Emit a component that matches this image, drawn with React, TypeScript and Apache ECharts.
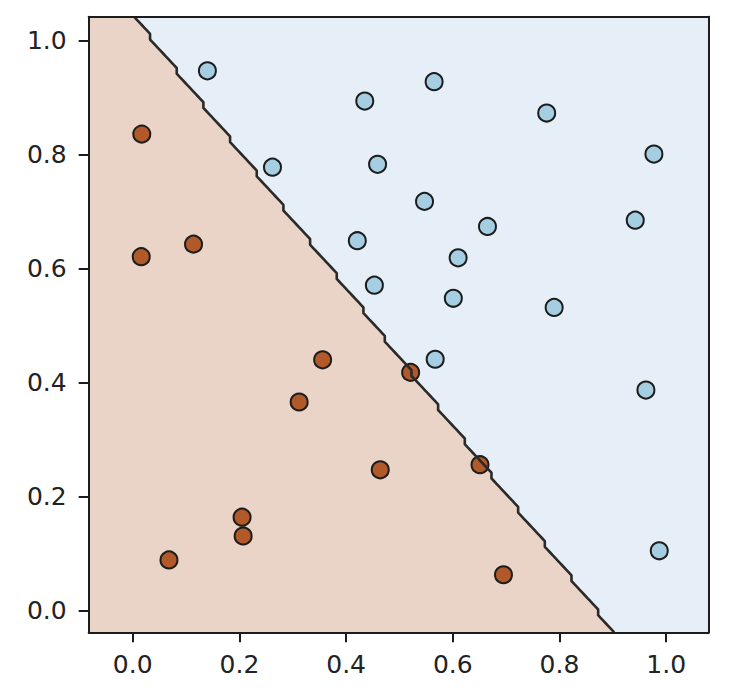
import React, { useEffect, useRef } from "react";
import * as echarts from "echarts";

// Class 0 points (light blue)
const classA: number[][] = [
  [0.140, 0.947], [0.565, 0.928], [0.435, 0.894], [0.776, 0.873],
  [0.977, 0.801], [0.262, 0.778], [0.459, 0.783], [0.547, 0.718],
  [0.665, 0.674], [0.942, 0.685], [0.421, 0.649], [0.610, 0.619],
  [0.453, 0.571], [0.601, 0.548], [0.790, 0.532], [0.567, 0.441],
  [0.962, 0.387], [0.987, 0.105],
];
// Class 1 points (brown)
const classB: number[][] = [
  [0.017, 0.836], [0.016, 0.621], [0.114, 0.643], [0.356, 0.440],
  [0.312, 0.366], [0.521, 0.418], [0.651, 0.256], [0.464, 0.247],
  [0.205, 0.164], [0.207, 0.131], [0.068, 0.089], [0.695, 0.063],
];
// Linear decision boundary (end points where it meets the plot frame)
const boundaryEnds: number[][] = [[0.004, 1.042], [0.901, -0.038]];
const xTicks = [0, 0.2, 0.4, 0.6, 0.8, 1.0];
const yTicks = [0, 0.2, 0.4, 0.6, 0.8, 1.0];
const xRange = [-0.0825, 1.0797];
const yRange = [-0.038, 1.042];
const meshStep = 0.01;

const BLUE_BG = "#e6eff7";
const ORANGE_BG = "#e9d4c7";
const BLUE_PT = "#a6cee3";
const ORANGE_PT = "#b15928";
const INK = "#1c1c1c";
const FONT = "DejaVu Sans";

// Evaluate the classifier on a mesh grid and trace the contour (marching squares)
function traceContour(): number[][] {
  const [[x1, y1], [x2, y2]] = boundaryEnds;
  const side = (x: number, y: number) =>
    (x - x1) * (y2 - y1) - (y - y1) * (x2 - x1) > 0;
  const h = meshStep;
  const nx = Math.floor((xRange[1] - xRange[0]) / h + 1e-9);
  const ny = Math.round((yRange[1] - yRange[0]) / h);
  const X = (i: number) => xRange[0] + i * h;
  const Y = (j: number) => yRange[0] + j * h;
  const pts: number[][] = [];
  for (let j = 0; j <= ny; j++) {
    for (let i = 0; i < nx; i++) {
      if (side(X(i), Y(j)) !== side(X(i + 1), Y(j))) pts.push([X(i) + h / 2, Y(j)]);
    }
  }
  for (let j = 0; j < ny; j++) {
    for (let i = 0; i <= nx; i++) {
      if (side(X(i), Y(j)) !== side(X(i), Y(j + 1))) pts.push([X(i), Y(j) + h / 2]);
    }
  }
  pts.sort((a, b) => (b[1] - a[1]) || (a[0] - b[0]));
  const first = pts[0];
  const last = pts[pts.length - 1];
  return [[first[0], yRange[1]], ...pts, [last[0], yRange[0]]];
}

export default function App() {
  const ref = useRef<HTMLDivElement>(null);
  useEffect(() => {
    document.body.style.margin = "0";
    if (!ref.current) return;
    const chart = echarts.init(ref.current, undefined, { renderer: "svg" });
    const contour = traceContour();
    const orangePoly = [[xRange[0], yRange[1]], ...contour, [xRange[0], yRange[0]]];
    const bluePoly = [
      [xRange[0], yRange[1]], [xRange[1], yRange[1]],
      [xRange[1], yRange[0]], [xRange[0], yRange[0]],
    ];
    const tickFmt = (v: number) => Number(v).toFixed(1);
    const lineCfg = { show: true, onZero: false, lineStyle: { color: INK, width: 2 } };
    const frameAxis = {
      axisLine: lineCfg,
      axisTick: { show: false },
      axisLabel: { show: false },
      splitLine: { show: false },
      z: 10,
    };
    chart.setOption({
      animation: false,
      grid: {
        left: 88.7, top: 16.7, right: 29.3, bottom: 63.7,
        containLabel: false, outerBoundsMode: "none",
      },
      xAxis: [
        {
          type: "value", position: "bottom", min: xRange[0], max: xRange[1],
          axisLine: lineCfg,
          axisTick: { show: true, customValues: xTicks, length: 10, lineStyle: { color: INK, width: 2 } },
          axisLabel: {
            customValues: xTicks, formatter: tickFmt, fontSize: 25, fontFamily: FONT,
            color: "#222", margin: 20,
          },
          splitLine: { show: false },
          z: 10,
        },
        { type: "value", position: "top", min: xRange[0], max: xRange[1], ...frameAxis },
      ],
      yAxis: [
        {
          type: "value", position: "left", min: yRange[0], max: yRange[1],
          axisLine: lineCfg,
          axisTick: { show: true, customValues: yTicks, length: 10, lineStyle: { color: INK, width: 2 } },
          axisLabel: {
            customValues: yTicks, formatter: tickFmt, fontSize: 25, fontFamily: FONT,
            color: "#222", margin: 22,
          },
          splitLine: { show: false },
          z: 10,
        },
        { type: "value", position: "right", min: yRange[0], max: yRange[1], ...frameAxis },
      ],
      series: [
        {
          type: "custom", z: 1, silent: true, clip: false,
          data: [0],
          renderItem: (_p: any, api: any) => ({
            type: "group",
            children: [
              { type: "polygon", shape: { points: bluePoly.map((p) => api.coord(p)) }, style: { fill: BLUE_BG } },
              { type: "polygon", shape: { points: orangePoly.map((p) => api.coord(p)) }, style: { fill: ORANGE_BG } },
            ],
          }),
        },
        {
          type: "scatter", z: 2, data: classA, symbol: "circle", symbolSize: 17,
          itemStyle: { color: BLUE_PT, borderColor: INK, borderWidth: 2, opacity: 1 },
        },
        {
          type: "scatter", z: 2, data: classB, symbol: "circle", symbolSize: 17,
          itemStyle: { color: ORANGE_PT, borderColor: INK, borderWidth: 2, opacity: 1 },
        },
        {
          type: "custom", z: 3, silent: true, clip: false,
          data: [0],
          renderItem: (_p: any, api: any) => ({
            type: "polyline",
            shape: { points: contour.map((p) => api.coord(p)) },
            style: { stroke: "#2a2a2a", lineWidth: 2.6, fill: null, lineJoin: "round" },
          }),
        },
      ],
    });
    return () => chart.dispose();
  }, []);
  return <div ref={ref} style={{ width: 738, height: 696 }} />;
}
